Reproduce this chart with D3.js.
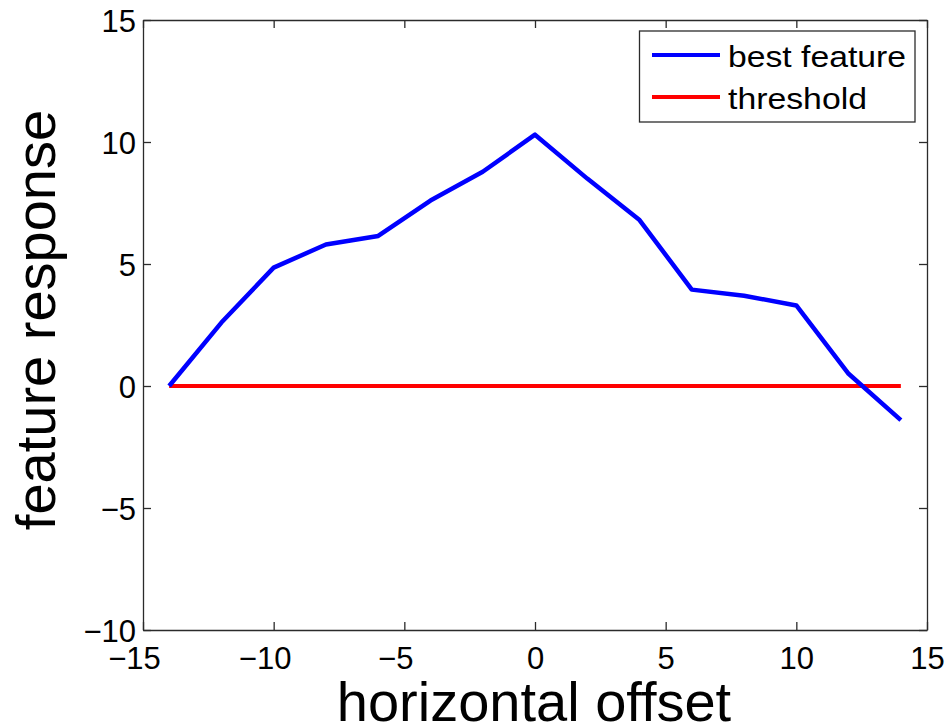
<!DOCTYPE html>
<html>
<head>
<meta charset="utf-8">
<script src="https://cdn.jsdelivr.net/npm/d3@7"></script>
<style>
  html, body { margin: 0; padding: 0; background: #fff; }
  svg { display: block; }
  text { font-family: "Liberation Sans", Arial, Helvetica, sans-serif; fill: #000; }
</style>
</head>
<body>
<svg id="chart" width="949" height="728"></svg>
<script>
// ---- data ----
const offsets = [-14, -12, -10, -8, -6, -4, -2, 0, 2, 4, 6, 8, 10, 12, 14];
const bestFeature = [0, 2.6, 4.85, 5.8, 6.15, 7.6, 8.78, 10.3, 8.5, 6.8, 3.95, 3.7, 3.3, 0.5, -1.4];
const thresholdX = [-14, 14];
const thresholdY = [0, 0];
const xTicks = [-15, -10, -5, 0, 5, 10, 15];
const yTicks = [-10, -5, 0, 5, 10, 15];
const seriesNames = ["best feature", "threshold"];
const seriesColors = ["#0000ff", "#ff0000"];

// ---- layout ----
const svg = d3.select("#chart");
const L = 143, R = 927, T = 20, B = 630;
const x = d3.scaleLinear().domain([-15, 15]).range([L, R]);
const y = d3.scaleLinear().domain([-10, 15]).range([B, T]);
const axisColor = "#2b2b2b";
const tickFont = 31;

function fmt(v) { return v < 0 ? "\u2212" + Math.abs(v) : String(v); }

// measurement helper
const meas = svg.append("text").attr("font-size", tickFont).attr("visibility", "hidden");
function width(s) { meas.text(s); return meas.node().getComputedTextLength(); }

// plot lines
const line = d3.line().x(d => x(d[0])).y(d => y(d[1]));
svg.append("path")
  .datum(thresholdX.map((v, i) => [v, thresholdY[i]]))
  .attr("d", line).attr("fill", "none")
  .attr("stroke", seriesColors[1]).attr("stroke-width", 3.8);
svg.append("path")
  .datum(offsets.map((v, i) => [v, bestFeature[i]]))
  .attr("d", line).attr("fill", "none")
  .attr("stroke", seriesColors[0]).attr("stroke-width", 4.5)
  .attr("stroke-linejoin", "round");

// axes
function styleAxis(g) {
  g.select(".domain").attr("stroke", axisColor).attr("stroke-width", 1.3);
  g.selectAll(".tick line").attr("stroke", axisColor).attr("stroke-width", 1.3);
}
const xb = svg.append("g").attr("transform", `translate(0,${B})`)
  .call(d3.axisBottom(x).tickValues(xTicks).tickSizeInner(-8).tickSizeOuter(0).tickPadding(0).tickFormat(fmt));
styleAxis(xb);
xb.selectAll(".tick text")
  .attr("font-size", tickFont).attr("font-family", null)
  .attr("text-anchor", "end")
  .attr("y", 39).attr("dy", null)
  .attr("x", d => width(String(Math.abs(d))) / 2);

const xt = svg.append("g").attr("transform", `translate(0,${T})`)
  .call(d3.axisTop(x).tickValues(xTicks).tickSizeInner(-8).tickSizeOuter(0).tickFormat(""));
styleAxis(xt);

const yl = svg.append("g").attr("transform", `translate(${L},0)`)
  .call(d3.axisLeft(y).tickValues(yTicks).tickSizeInner(-8).tickSizeOuter(0).tickPadding(0).tickFormat(fmt));
styleAxis(yl);
yl.selectAll(".tick text")
  .attr("font-size", tickFont).attr("font-family", null)
  .attr("text-anchor", "end")
  .attr("x", -7).attr("dy", null).attr("y", 11);

const yr = svg.append("g").attr("transform", `translate(${R},0)`)
  .call(d3.axisRight(y).tickValues(yTicks).tickSizeInner(-8).tickSizeOuter(0).tickFormat(""));
styleAxis(yr);

// axis titles
svg.append("text").attr("x", 534).attr("y", 721)
  .attr("text-anchor", "middle").attr("font-size", 56).text("horizontal offset");
svg.append("text").attr("transform", "translate(55,320) rotate(-90)")
  .attr("text-anchor", "middle").attr("font-size", 56).text("feature response");

// legend
const lg = svg.append("g");
lg.append("rect").attr("x", 639.5).attr("y", 31).attr("width", 275.5).attr("height", 91)
  .attr("fill", "#fff").attr("stroke", axisColor).attr("stroke-width", 1.3);
const rows = [55, 97];
const textW = [178, 139];
seriesNames.forEach((name, i) => {
  lg.append("line").attr("x1", 652).attr("x2", 720).attr("y1", rows[i]).attr("y2", rows[i])
    .attr("stroke", seriesColors[i]).attr("stroke-width", 4);
  lg.append("text").attr("x", 728).attr("y", rows[i] + 11.5)
    .attr("font-size", 30)
    .attr("textLength", textW[i]).attr("lengthAdjust", "spacingAndGlyphs")
    .text(name);
});
meas.remove();
</script>
</body>
</html>
